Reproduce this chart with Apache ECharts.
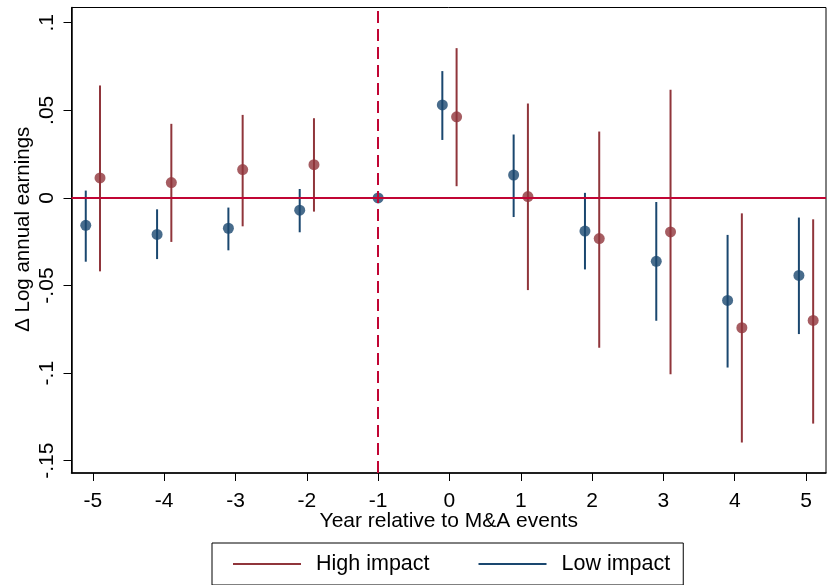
<!DOCTYPE html>
<html>
<head>
<meta charset="utf-8">
<script src="https://cdn.jsdelivr.net/npm/echarts@6/dist/echarts.min.js"></script>
<style>html,body{margin:0;padding:0;background:#fff}#c{width:827px;height:585px}</style>
</head>
<body>
<div id="c"></div>
<script>
// ---- data ----
var years = [-5, -4, -3, -2, -1, 0, 1, 2, 3, 4, 5];
var xTicks = [-5, -4, -3, -2, -1, 0, 1, 2, 3, 4, 5];
var yTicks = [-0.15, -0.1, -0.05, 0, 0.05, 0.1];
var yTickLabels = ['-.15', '-.1', '-.05', '0', '.05', '.1'];

// Low impact (blue); year -1 is the reference period
var lowYears = [-5, -4, -3, -2, -1, 0, 1, 2, 3, 4, 5];
var lowEst = [-0.0156, -0.0208, -0.0173, -0.0070, 0, 0.0531, 0.0131, -0.0189, -0.0362, -0.0585, -0.0442];
var lowHi  = [0.0042, -0.0065, -0.0055, 0.0051, 0, 0.0724, 0.0362, 0.0029, -0.0023, -0.0211, -0.0112];
var lowLo  = [-0.0364, -0.0349, -0.0299, -0.0196, 0, 0.0331, -0.0109, -0.0408, -0.0701, -0.0968, -0.0777];

// High impact (red)
var highYears = [-5, -4, -3, -2, 0, 1, 2, 3, 4, 5];
var highEst = [0.0114, 0.0088, 0.0162, 0.0190, 0.0463, 0.0008, -0.0232, -0.0194, -0.0741, -0.0699];
var highHi  = [0.0642, 0.0423, 0.0474, 0.0455, 0.0855, 0.0539, 0.0379, 0.0617, -0.0088, -0.0122];
var highLo  = [-0.0419, -0.0251, -0.0162, -0.0078, 0.0067, -0.0526, -0.0855, -0.1006, -0.1396, -0.1288];

var BLUE = '#1a476f', RED = '#90353b', LINE = '#c10534';
var FONT = 'Arial, "Liberation Sans", sans-serif';

function xPos(y, off) { return y === -1 ? y : y + off; }

function ciData(yrs, lo, hi, off) {
  return yrs.map(function (y, i) { return [xPos(y, off), lo[i], hi[i]]; });
}
function ptData(yrs, est, off) {
  return yrs.map(function (y, i) { return [xPos(y, off), est[i]]; });
}
function ciRender(color) {
  return function (params, api) {
    var a = api.coord([api.value(0), api.value(1)]);
    var b = api.coord([api.value(0), api.value(2)]);
    return { type: 'line', shape: { x1: a[0], y1: a[1], x2: b[0], y2: b[1] },
             style: { stroke: color, lineWidth: 2 } };
  };
}

var chart = echarts.init(document.getElementById('c'), null, { renderer: 'canvas' });
chart.setOption({
  animation: false,
  backgroundColor: '#fff',
  textStyle: { fontFamily: FONT },
  grid: { left: 71.5, top: 7.5, right: 1, bottom: 112, show: true, borderColor: '#000', borderWidth: 1, backgroundColor: 'transparent', containLabel: false, outerBoundsMode: 'none' },
  xAxis: {
    type: 'value', min: -5.3, max: 5.28,
    name: 'Year relative to M&A events', nameLocation: 'middle', nameGap: 38, nameMoveOverlap: false,
    nameTextStyle: { fontSize: 21, color: '#000', fontFamily: FONT },
    axisLine: { show: true, onZero: false, lineStyle: { color: '#000', width: 1.5 } },
    axisTick: { show: true, length: 8, customValues: xTicks, lineStyle: { color: '#000', width: 1 } },
    axisLabel: { customValues: xTicks, fontSize: 21, color: '#000', margin: 18, fontFamily: FONT },
    splitLine: { show: false }
  },
  yAxis: {
    type: 'value', min: -0.157, max: 0.1087,
    name: '\u0394 Log annual earnings', nameLocation: 'middle', nameGap: 38, nameMoveOverlap: false,
    nameTextStyle: { fontSize: 20.5, color: '#000', fontFamily: FONT, padding: [0, 0, 0, 22] },
    axisLine: { show: true, onZero: false, lineStyle: { color: '#000', width: 1.5 } },
    axisTick: { show: true, length: 8, customValues: yTicks, lineStyle: { color: '#000', width: 1 } },
    axisLabel: {
      customValues: yTicks, fontSize: 21, color: '#000', margin: 14, rotate: 90, fontFamily: FONT,
      formatter: function (v) {
        for (var i = 0; i < yTicks.length; i++) if (Math.abs(v - yTicks[i]) < 1e-9) return yTickLabels[i];
        return '';
      }
    },
    splitLine: { show: false }
  },
  legend: {
    left: 212, top: 543, orient: 'horizontal',
    padding: [10, 13, 10, 21], itemGap: 49,
    borderColor: '#000', borderWidth: 1,
    itemWidth: 68, itemHeight: 2, icon: 'rect',
    textStyle: { fontSize: 21.5, color: '#000', fontFamily: FONT, padding: [0, 0, 0, 10] },
    selectedMode: false,
    data: [
      { name: 'High impact', itemStyle: { color: RED } },
      { name: 'Low impact', itemStyle: { color: BLUE } }
    ]
  },
  series: [
    {
      type: 'line', name: 'ref', data: [], silent: true,
      markLine: {
        symbol: 'none', silent: true, label: { show: false },
        data: [
          { yAxis: 0, lineStyle: { color: LINE, width: 2, type: 'solid' } },
          { xAxis: -1, lineStyle: { color: LINE, width: 2, type: [12, 6] } }
        ]
      },
      z: 1
    },
    { type: 'custom', name: 'High impact', data: ciData(highYears, highLo, highHi, 0.1), renderItem: ciRender(RED), itemStyle: { color: RED }, z: 2 },
    { type: 'custom', name: 'Low impact', data: ciData(lowYears, lowLo, lowHi, -0.1), renderItem: ciRender(BLUE), itemStyle: { color: BLUE }, z: 2 },
    { type: 'scatter', name: 'High impact', data: ptData(highYears, highEst, 0.1), symbol: 'circle', symbolSize: 11, itemStyle: { color: RED }, z: 3 },
    { type: 'scatter', name: 'Low impact', data: ptData(lowYears, lowEst, -0.1), symbol: 'circle', symbolSize: 11, itemStyle: { color: BLUE }, z: 3 }
  ]
});
</script>
</body>
</html>
